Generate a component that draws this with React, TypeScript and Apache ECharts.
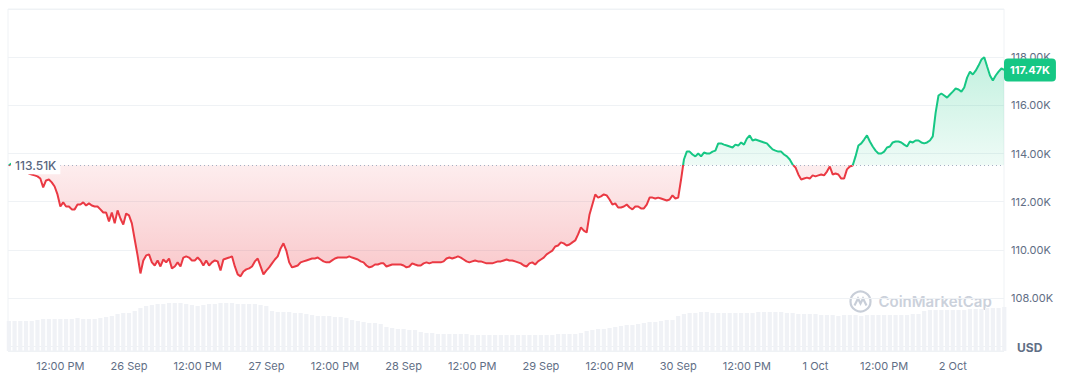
import React, { useEffect, useRef } from 'react';
import * as echarts from 'echarts';

// hours since 25 Sep 00:00 of the first sample, and sample spacing (hours)
const startHour = 3;
const priceStep = 0.5;
const volumeStep = 1;
const baseline = 113510; // 7-day opening price
const lastPrice = 117470;

// BTC price, 30-minute samples
const prices = [
  113510, 113590, 113500, 113420, 113340, 113290, 113250, 113170, 113130, 113090,
  113050, 112960, 112590, 112880, 112920, 112800, 112630, 112300, 111800, 111970,
  111800, 111800, 111680, 111680, 111880, 111880, 111970, 111840, 111930, 111840,
  111800, 111800, 111680, 111550, 111550, 111180, 111550, 111100, 111640, 111300,
  111050, 111510, 111430, 111100, 110430, 109770, 109020, 109560, 109770, 109810,
  109480, 109350, 109560, 109310, 109600, 109480, 109640, 109230, 109310, 109480,
  109310, 109680, 109730, 109680, 109560, 109560, 109680, 109560, 109350, 109560,
  109350, 109480, 109560, 109520, 109140, 109600, 109640, 109680, 109730, 109310,
  108980, 108900, 109100, 109190, 109230, 109310, 109520, 109640, 109310, 108980,
  109140, 109270, 109440, 109600, 109730, 110060, 110270, 109970, 109480, 109270,
  109310, 109350, 109480, 109520, 109560, 109600, 109640, 109640, 109680, 109600,
  109520, 109480, 109480, 109560, 109640, 109680, 109680, 109680, 109680, 109730,
  109680, 109640, 109600, 109520, 109480, 109350, 109270, 109310, 109390, 109390,
  109440, 109440, 109310, 109350, 109390, 109390, 109390, 109390, 109350, 109270,
  109310, 109440, 109390, 109350, 109350, 109440, 109480, 109440, 109480, 109480,
  109480, 109480, 109520, 109640, 109680, 109640, 109680, 109730, 109680, 109600,
  109520, 109480, 109520, 109560, 109520, 109520, 109480, 109440, 109440, 109440,
  109480, 109520, 109520, 109560, 109600, 109560, 109560, 109520, 109480, 109440,
  109350, 109310, 109440, 109480, 109390, 109520, 109600, 109680, 109810, 109890,
  109970, 110140, 110180, 110310, 110270, 110180, 110220, 110310, 110390, 110640,
  110930, 110800, 110720, 111470, 111880, 112300, 112170, 112220, 112300, 112260,
  112090, 111880, 111930, 111760, 111760, 111800, 111880, 111760, 111680, 111800,
  111800, 111720, 111720, 111880, 112170, 112170, 112130, 112170, 112130, 112090,
  112050, 112090, 112260, 112130, 112170, 112920, 113750, 114080, 114080, 113960,
  113880, 114000, 113880, 114040, 114000, 114000, 114080, 114120, 114420, 114420,
  114370, 114330, 114290, 114250, 114370, 114330, 114460, 114370, 114620, 114750,
  114540, 114580, 114540, 114500, 114460, 114420, 114290, 114170, 114120, 114080,
  114080, 113960, 113880, 113750, 113540, 113420, 113130, 112920, 112960, 113000,
  112960, 113090, 113050, 113090, 113130, 113090, 113250, 113460, 113130, 113170,
  113130, 112960, 112960, 113340, 113460, 113500, 113880, 114330, 114420, 114580,
  114750, 114500, 114290, 114120, 114000, 114000, 114080, 114250, 114290, 114460,
  114500, 114500, 114460, 114370, 114290, 114500, 114460, 114540, 114540, 114460,
  114420, 114460, 114540, 114710, 115700, 116410, 116490, 116410, 116320, 116450,
  116570, 116700, 116660, 116570, 116740, 117150, 117400, 117280, 117440, 117650,
  117900, 118000, 117610, 117240, 117030, 117240, 117400, 117530, 117470,
];

// hourly volume (billions USD, approximate)
const volumes = [
  3.0, 3.0, 3.0, 3.0, 3.0, 3.1,
  3.2, 3.2, 3.2, 3.2, 3.2, 3.2, 3.3, 3.2, 3.2, 3.2,
  3.3, 3.4, 3.5, 3.7, 3.8, 3.8,
  4.0, 4.3, 4.5, 4.6, 4.7, 4.7, 4.8, 4.8, 4.8, 4.7,
  4.6, 4.5, 4.6,
  4.7, 4.7, 4.8, 4.8, 4.8, 4.7, 4.7, 4.7, 4.7, 4.6, 4.5,
  4.0, 3.9, 3.9, 3.9, 3.8, 3.8, 3.7,
  3.6, 3.5, 3.5, 3.5, 3.4, 3.4, 3.3,
  3.1, 3.0, 2.9, 2.8, 2.8, 2.7,
  2.4, 2.3, 2.2, 2.2, 2.1, 2.1,
  1.9, 1.8, 1.8, 1.7, 1.7, 1.7, 1.7, 1.7, 1.7, 1.6, 1.6, 1.6, 1.6, 1.6, 1.6, 1.6, 1.6, 1.6, 1.6,
  1.6, 1.6, 1.6, 1.6, 1.6, 1.7, 1.7, 1.7, 1.7, 1.8, 2.0,
  2.1, 2.2, 2.2, 2.3, 2.4, 2.5, 2.6, 2.6, 2.7, 2.8, 2.9, 2.9, 3.0, 3.1, 3.1,
  3.5, 3.7, 3.8, 3.8, 3.9, 3.9, 3.8, 3.8,
  3.8, 3.8, 3.8, 3.8, 3.8, 3.8, 3.9, 3.9, 3.9, 3.9, 3.9, 3.8, 3.8, 3.7, 3.7, 3.7, 3.7, 3.6, 3.6,
  3.6, 3.5, 3.6, 3.6, 3.6, 3.5, 3.6, 3.6, 3.6, 3.6, 3.6, 3.6, 3.6, 3.6, 3.7, 3.7,
  4.0, 4.1, 4.1, 4.1, 4.1, 4.1, 4.1, 4.1, 4.2, 4.2, 4.2, 4.3, 4.3, 4.3, 4.4,
];

const tickHours = [12, 24, 36, 48, 60, 72, 84, 96, 108, 120, 132, 144, 156, 168];
const tickLabels = [
  '12:00 PM', '26 Sep', '12:00 PM', '27 Sep', '12:00 PM', '28 Sep', '12:00 PM',
  '29 Sep', '12:00 PM', '30 Sep', '12:00 PM', '1 Oct', '12:00 PM', '2 Oct',
];
const yLabelValues = [108000, 110000, 112000, 114000, 116000, 118000];

const RED = '#ea3943';
const GREEN = '#16c784';
const fmtK = (v: number) => (v / 1000).toFixed(2) + 'K';

export default function App() {
  const ref = useRef<HTMLDivElement>(null);
  useEffect(() => {
    const chart = echarts.init(ref.current!, null, { renderer: 'svg' });
    const xOf = (i: number) => startHour + i * priceStep;
    const pts = prices.map((p, i) => [xOf(i), p]);
    const above = prices.map((p, i) => [xOf(i), Math.max(p, baseline)]);
    const below = prices.map((p, i) => [xOf(i), Math.min(p, baseline)]);
    const vol = volumes.map((v, i) => [startHour + i * volumeStep, v]);

    chart.setOption({
      animation: false,
      textStyle: { fontFamily: 'Inter, sans-serif' },
      grid: {
        left: 8, right: 67, top: 9, bottom: 40,
        show: true, borderColor: '#eff2f5', borderWidth: 1,
      },
      xAxis: {
        type: 'value',
        min: 2.85,
        max: 176.95,
        minInterval: 12,
        maxInterval: 12,
        axisLine: { show: false },
        axisTick: { show: false },
        splitLine: { show: false },
        axisLabel: {
          formatter: (v: number) => {
            const k = tickHours.indexOf(Math.round(v * 100) / 100);
            return k >= 0 ? tickLabels[k] : '';
          },
          color: '#616e85',
          fontSize: 11,
          margin: 9,
        },
      },
      yAxis: [
        {
          type: 'value',
          position: 'right',
          min: 105800,
          max: 120000,
          minInterval: 2000,
          maxInterval: 2000,
          axisLine: { show: false },
          axisTick: { show: false },
          splitLine: { show: true, lineStyle: { color: '#eff2f5', width: 1 } },
          axisLabel: {
            formatter: (v: number) => (yLabelValues.indexOf(v) >= 0 ? fmtK(v) : ''),
            color: '#616e85',
            fontSize: 11,
            margin: 7,
          },
        },
        { type: 'value', min: 0, max: 34.2, show: false },
      ],
      visualMap: {
        show: false,
        type: 'piecewise',
        seriesIndex: 3,
        dimension: 1,
        pieces: [
          { gte: 100000, lt: baseline, color: RED },
          { gte: baseline, lte: 130000, color: GREEN },
        ],
        outOfRange: { color: GREEN },
      },
      series: [
        {
          type: 'bar',
          xAxisIndex: 0,
          yAxisIndex: 1,
          data: vol,
          barWidth: 4.2,
          itemStyle: { color: '#f0f2f6' },
          silent: true,
          z: 1,
        },
        {
          type: 'line',
          data: above,
          symbol: 'none',
          silent: true,
          lineStyle: { width: 0 },
          areaStyle: {
            origin: baseline,
            opacity: 1,
            color: new echarts.graphic.LinearGradient(0, 0, 0, 1, [
              { offset: 0, color: 'rgba(22,199,132,0.26)' },
              { offset: 1, color: 'rgba(22,199,132,0.07)' },
            ]),
          },
          z: 2,
        },
        {
          type: 'line',
          data: below,
          symbol: 'none',
          silent: true,
          lineStyle: { width: 0 },
          areaStyle: {
            origin: baseline,
            opacity: 1,
            color: new echarts.graphic.LinearGradient(0, 0, 0, 1, [
              { offset: 0, color: 'rgba(234,57,67,0.09)' },
              { offset: 1, color: 'rgba(234,57,67,0.28)' },
            ]),
          },
          z: 2,
        },
        {
          type: 'line',
          data: pts,
          symbol: 'none',
          silent: true,
          lineStyle: { width: 2 },
          z: 3,
          markLine: {
            symbol: 'none',
            silent: true,
            data: [
              {
                yAxis: baseline,
                lineStyle: { color: '#a6b0c3', type: [1, 3], width: 1 },
                label: {
                  show: true,
                  position: 'insideStart',
                  distance: 3,
                  formatter: fmtK(baseline),
                  backgroundColor: '#ffffff',
                  color: '#58667e',
                  fontSize: 12,
                  fontWeight: 500,
                  padding: [3, 4],
                },
              },
              {
                yAxis: lastPrice,
                lineStyle: { color: 'rgba(0,0,0,0)', width: 0 },
                label: {
                  show: true,
                  position: 'end',
                  distance: 0,
                  opacity: 1,
                  formatter: fmtK(lastPrice),
                  backgroundColor: GREEN,
                  color: '#ffffff',
                  fontSize: 11,
                  fontWeight: 700,
                  padding: [6, 6],
                  borderRadius: 4,
                },
              },
            ],
          },
        },
      ],
      graphic: [
        {
          type: 'text',
          left: 1017,
          top: 341,
          style: { text: 'USD', fill: '#616e85', font: 'bold 12px Inter, sans-serif' },
        },
        {
          type: 'group',
          left: 848,
          top: 289,
          children: [
            {
              type: 'circle',
              shape: { cx: 11, cy: 11, r: 10 },
              style: { fill: 'none', stroke: '#c8ced8', lineWidth: 2.2 },
            },
            {
              type: 'polyline',
              shape: { points: [[5, 15], [8.5, 8], [11, 13], [13.5, 8], [17, 15]] },
              style: { fill: 'none', stroke: '#c8ced8', lineWidth: 2.2 },
            },
            {
              type: 'text',
              x: 29,
              y: 11,
              style: {
                text: 'CoinMarketCap',
                fill: '#cbd1db',
                font: '600 15px Inter, sans-serif',
                verticalAlign: 'middle',
              },
            },
          ],
        },
      ],
    });
    return () => chart.dispose();
  }, []);
  return (
    <div
      ref={ref}
      style={{ position: 'fixed', left: 0, top: 0, width: 1071, height: 391, background: '#fff' }}
    />
  );
}
